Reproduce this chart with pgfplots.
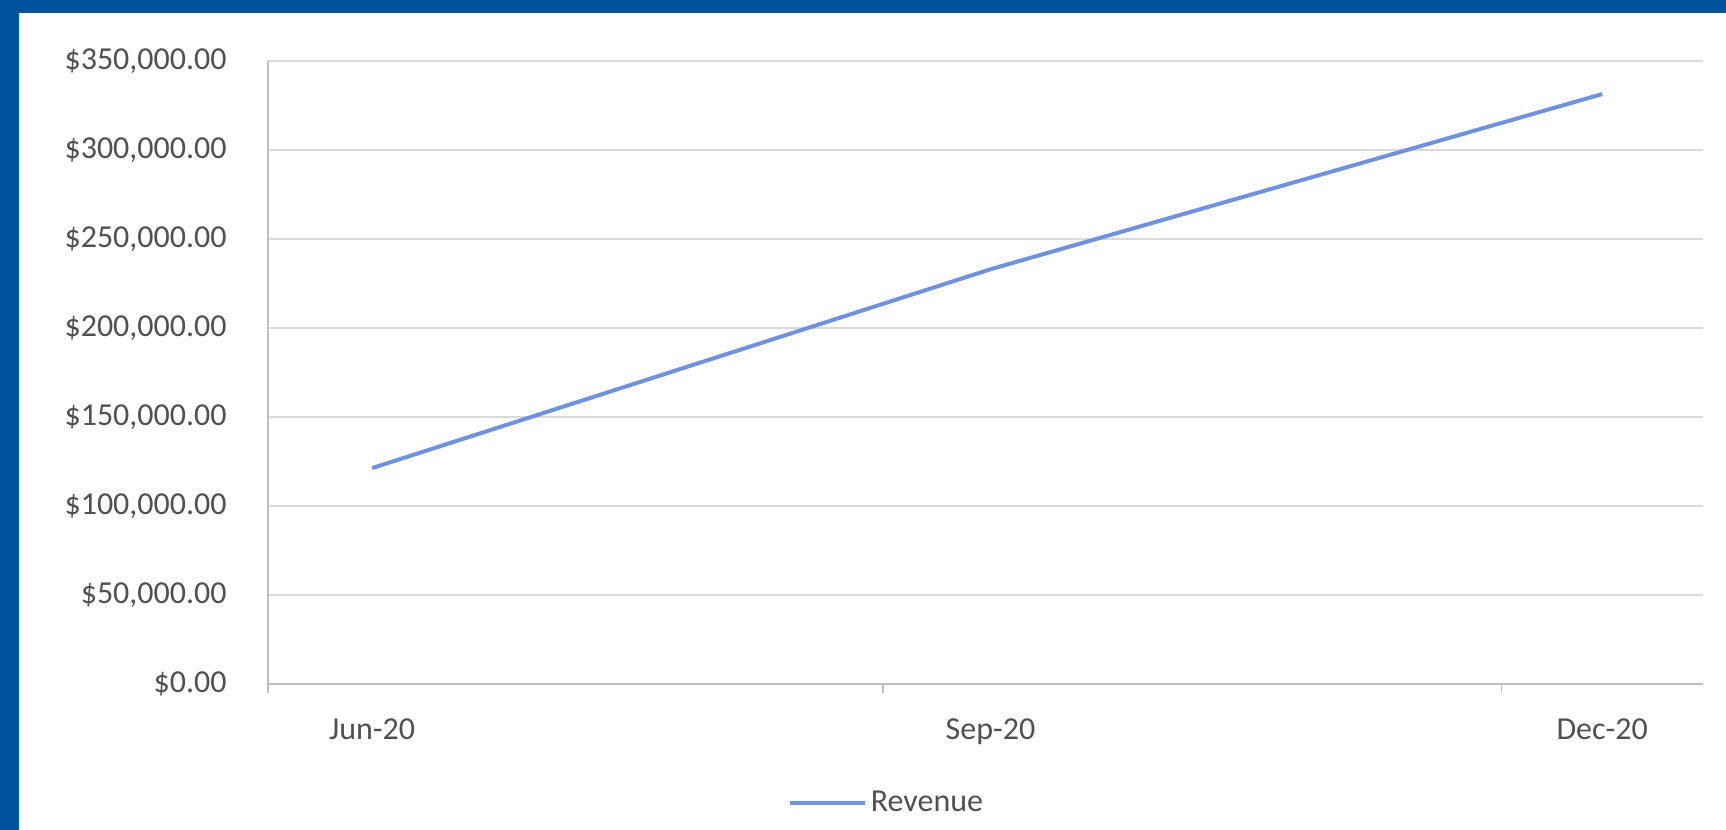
\documentclass[border=0pt]{standalone}
\usepackage{pgfplots}
\pgfplotsset{compat=1.18}
\usepackage{fontspec}
\setmainfont{Carlito}

\definecolor{framebg}{RGB}{0,84,158}
\definecolor{gridgray}{RGB}{217,217,217}
\definecolor{axisgray}{RGB}{191,191,191}
\definecolor{labelgray}{RGB}{80,80,80}
\definecolor{revblue}{RGB}{110,146,222}

\begin{document}
\begin{tikzpicture}
  \useasboundingbox (0,0) rectangle (863pt,415pt);
  \fill[framebg] (0,0) rectangle (863pt,415pt);
  \fill[white] (9.5pt,0) rectangle (863pt,408.5pt);

  \begin{axis}[
      at={(134pt,73pt)}, anchor=south west,
      scale only axis,
      width=717.5pt, height=311.5pt,
      clip=false,
      xmin=-15.5, xmax=198,
      ymin=0, ymax=350000,
      scaled y ticks=false,
      axis lines*=left,
      axis line style={-, draw=axisgray, line width=1.1pt},
      xtick={0,92,183},
      xticklabels={Jun-20,Sep-20,Dec-20},
      major tick length=0pt,
      extra x ticks={-15.5,76,168},
      extra x tick labels={},
      extra x tick style={tick align=outside, major tick length=4.5pt,
        tick style={draw=axisgray, line width=0.8pt}},
      ytick={0,50000,100000,150000,200000,250000,300000,350000},
      yticklabels={{\$0.00},{\$50,000.00},{\$100,000.00},{\$150,000.00},
        {\$200,000.00},{\$250,000.00},{\$300,000.00},{\$350,000.00}},
      ymajorgrids=true,
      grid style={draw=gridgray, line width=1.1pt},
      ytick style={draw=none},
      tick label style={font=\fontsize{16}{19}\selectfont, text=labelgray},
      yticklabel style={anchor=east, inner sep=0pt, xshift=-20.5pt},
      xticklabel style={anchor=north, inner sep=0pt, yshift=-17pt},
      legend style={at={(0.362,-0.191)}, anchor=west, draw=none, fill=none,
        inner sep=0pt, font=\fontsize{16}{19}\selectfont, text=labelgray},
      legend image code/.code={\draw[#1] (0pt,0pt) -- (37.5pt,0pt);},
  ]
  \addplot[color=revblue, line width=2pt] coordinates {
      (0, 121300)
      (92, 233000)
      (183, 331400)
  };
  \addlegendentry{Revenue}
  \end{axis}
\end{tikzpicture}
\end{document}
